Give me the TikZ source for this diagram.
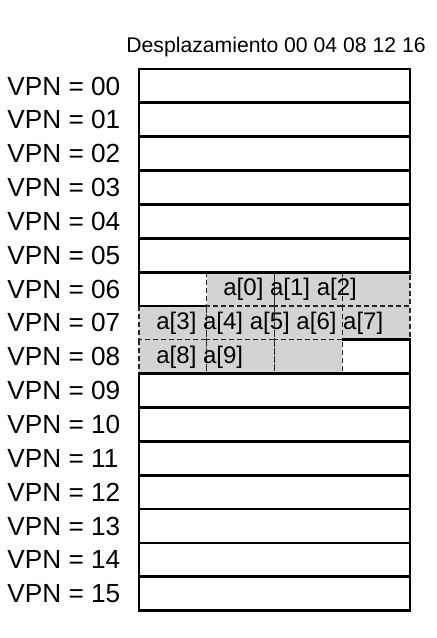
\documentclass[tikz,border=0pt]{standalone}
\usepackage{fontspec}
\setmainfont{Liberation Sans}
\definecolor{cellgray}{RGB}{211,211,211}
\begin{document}
\begin{tikzpicture}[x=0.5pt, y=-0.5pt,
    page/.style={draw=black, line width=1.4pt},
    cell/.style={draw=black!85, line width=0.65pt, dash pattern=on 2.5pt off 1.5pt},
    vpn/.style={anchor=west, inner sep=0pt, font=\fontsize{13.1}{15}\selectfont},
    elem/.style={anchor=west, inner sep=0pt, font=\fontsize{12}{14}\selectfont}]
  \useasboundingbox (0,0) rectangle (436,638);

  % Header with the offsets
  \node[inner sep=0pt, font=\fontsize{10.6}{13}\selectfont] (head) at (276,47) {Desplazamiento 00 04 08 12 16};

  % Cells holding the array (grey, dashed)
  \foreach \r/\c in {6/1,6/2,6/3,7/0,7/1,7/2,7/3,8/0,8/1,8/2} {
    \fill[cellgray] (139+67.75*\c,69+33.85*\r) rectangle (139+67.75*\c+67.75,69+33.85*\r+33.85);
    \draw[cell] (139+67.75*\c,69+33.85*\r) rectangle (139+67.75*\c+67.75,69+33.85*\r+33.85);
  }

  % VPN labels and the pages
  \foreach \i in {0,...,15} {
    \node[vpn] (vpn\i) at (7,69+33.85*\i+17) {VPN = \ifnum\i<10 0\fi\i};
  }
  \foreach \i in {0,...,5,9,10,...,15} {
    \draw[page] (139,69+33.85*\i) rectangle (410,69+33.85*\i+33.85);
  }

  % Free parts of the pages 06 and 08
  \draw[page] (207,272.1) -- (139,272.1) -- (139,306) -- (207,306);
  \draw[page] (342,339.8) -- (410,339.8) -- (410,373.6) -- (342,373.6);

  % Elements of the array
  \node[elem] (row6) at (223,289.5) {a[0] a[1] a[2]};
  \node[elem] (row7) at (156,323.3) {a[3] a[4] a[5] a[6] a[7]};
  \node[elem] (row8) at (156,357.1) {a[8] a[9]};
\end{tikzpicture}
\end{document}
